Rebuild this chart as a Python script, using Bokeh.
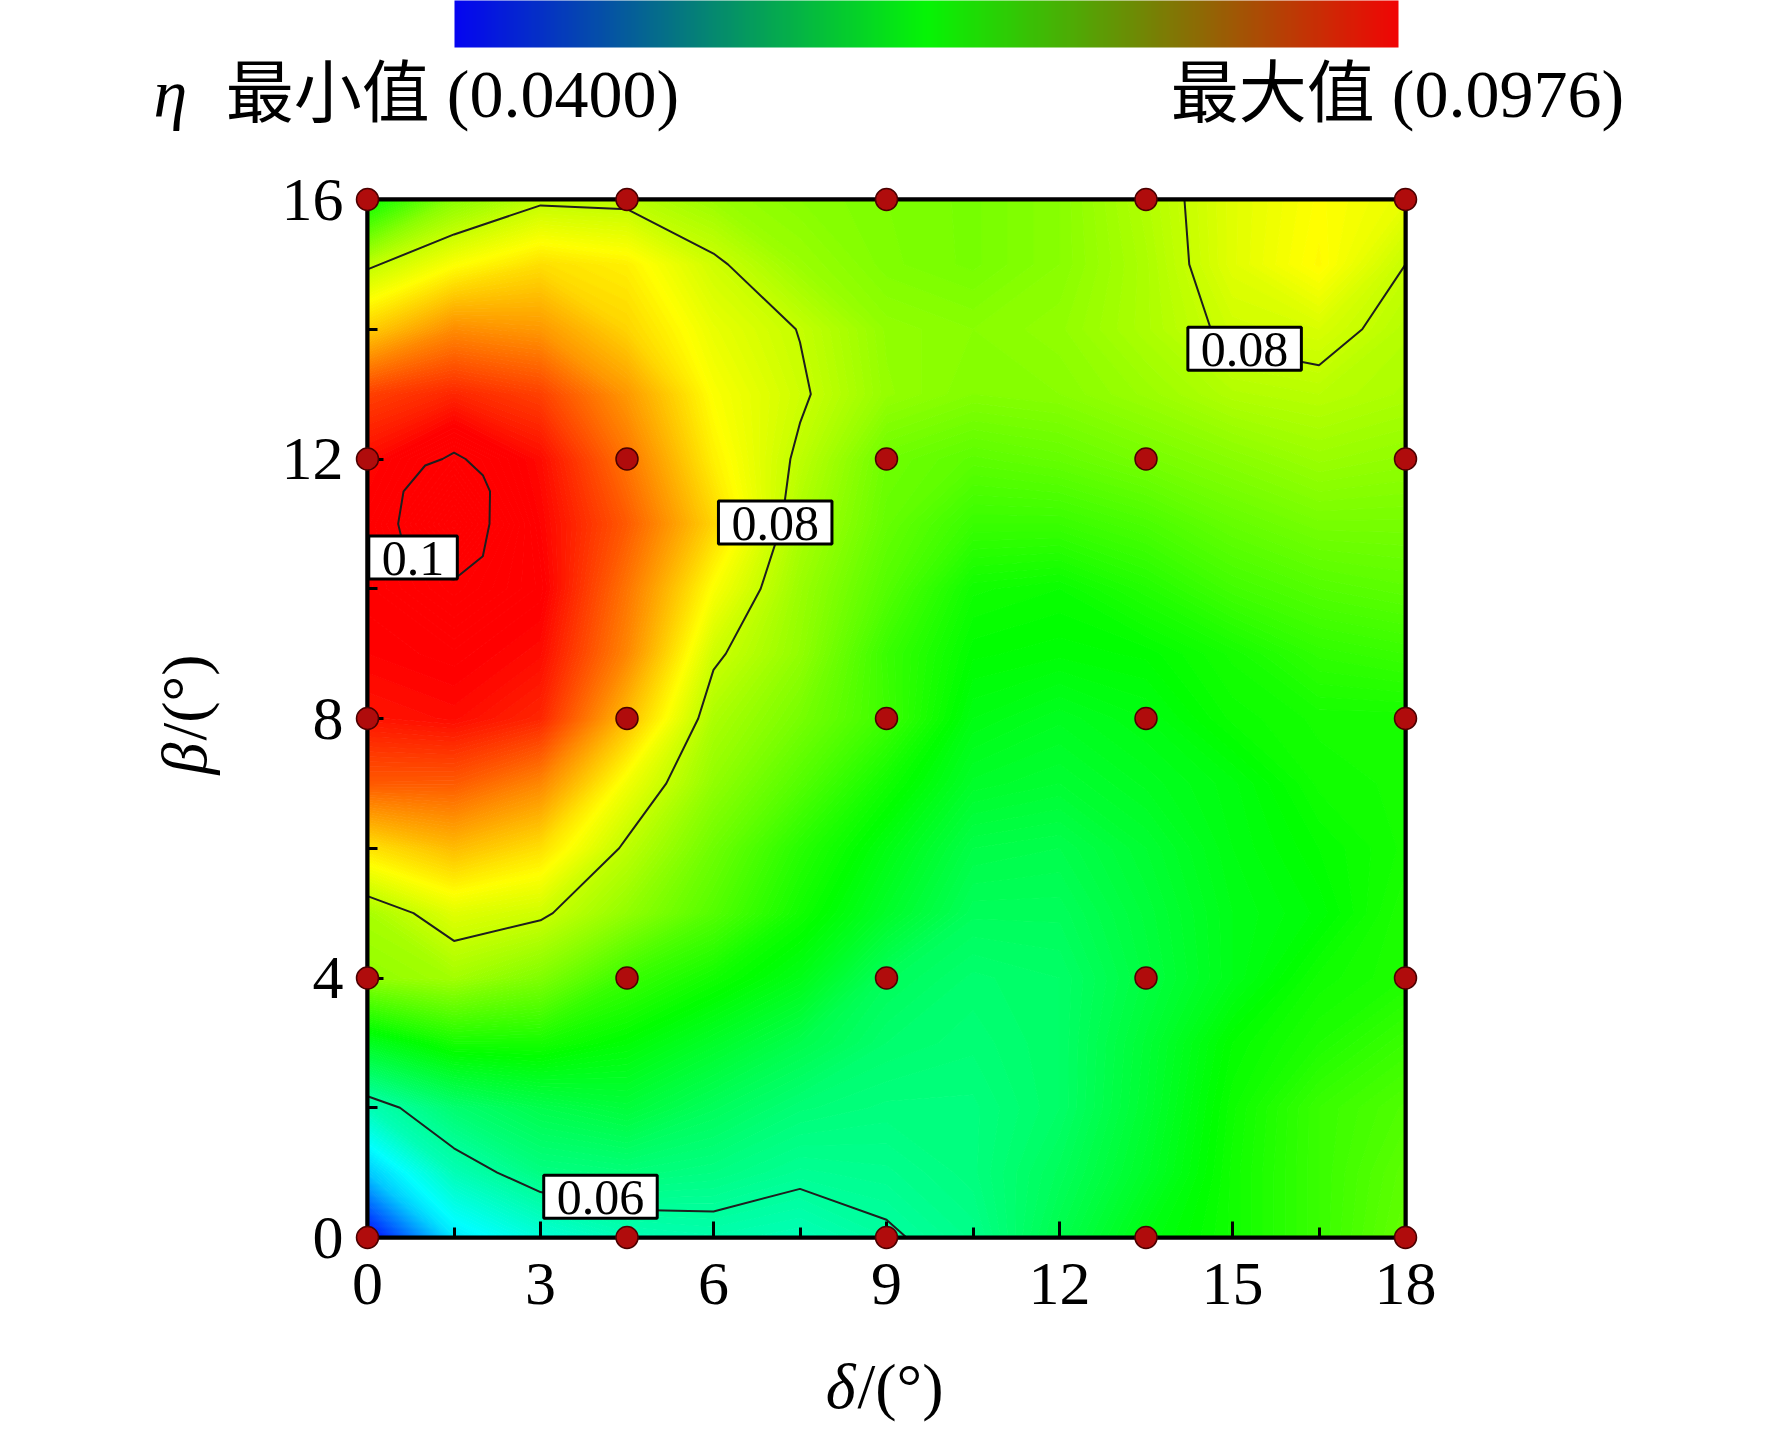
import math
import numpy as np
from bokeh.plotting import figure
from bokeh.models import (Label, ColorBar, LinearColorMapper, SingleIntervalTicker,
                          FixedTicker, Range1d, LinearAxis)
from bokeh.core.properties import value
from bokeh.embed import file_html
from bokeh.resources import INLINE

# ---------------- data ----------------
delta = [0, 1.5, 3, 4.5, 6, 7.5, 9, 10.5, 12, 13.5, 15, 16.5, 18]
beta = [0, 1, 2, 3, 4, 5, 6, 7, 8, 9, 10, 11, 12, 13, 14, 15, 16]

eta_b0 = [0.0400, 0.0530, 0.0565, 0.0585, 0.0590, 0.0585, 0.0597, 0.0610, 0.0645, 0.0678, 0.0697, 0.0720, 0.0744]
eta_b1 = [0.0513, 0.0585, 0.0615, 0.0620, 0.0615, 0.0605, 0.0608, 0.0617, 0.0637, 0.0665, 0.0697, 0.0720, 0.0740]
eta_b2 = [0.0585, 0.0625, 0.0645, 0.0655, 0.0637, 0.0622, 0.0617, 0.0617, 0.0630, 0.0660, 0.0695, 0.0720, 0.0733]
eta_b3 = [0.0670, 0.0700, 0.0700, 0.0685, 0.0665, 0.0645, 0.0627, 0.0622, 0.0630, 0.0658, 0.0690, 0.0705, 0.0720]
eta_b4 = [0.0770, 0.0780, 0.0760, 0.0720, 0.0697, 0.0675, 0.0637, 0.0626, 0.0630, 0.0652, 0.0675, 0.0697, 0.0705]
eta_b5 = [0.0783, 0.0815, 0.0805, 0.0770, 0.0735, 0.0697, 0.0665, 0.0637, 0.0637, 0.0655, 0.0675, 0.0685, 0.0705]
eta_b6 = [0.0848, 0.0870, 0.0850, 0.0795, 0.0750, 0.0710, 0.0678, 0.0648, 0.0645, 0.0660, 0.0678, 0.0690, 0.0700]
eta_b7 = [0.0926, 0.0925, 0.0900, 0.0825, 0.0770, 0.0735, 0.0697, 0.0665, 0.0660, 0.0670, 0.0680, 0.0697, 0.0700]
eta_b8 = [0.0965, 0.0970, 0.0955, 0.0870, 0.0785, 0.0755, 0.0722, 0.0678, 0.0670, 0.0678, 0.0694, 0.0700, 0.0700]
eta_b9 = [0.0975, 0.0980, 0.0970, 0.0900, 0.0805, 0.0770, 0.0720, 0.0688, 0.0685, 0.0688, 0.0700, 0.0715, 0.0720]
eta_b10 = [0.0980, 0.0998, 0.0980, 0.0910, 0.0830, 0.0775, 0.0735, 0.0697, 0.0693, 0.0707, 0.0725, 0.0735, 0.0740]
eta_b11 = [0.0980, 0.1025, 0.0975, 0.0925, 0.0856, 0.0785, 0.0745, 0.0720, 0.0720, 0.0730, 0.0745, 0.0755, 0.0755]
eta_b12 = [0.0970, 0.0999, 0.0970, 0.0910, 0.0840, 0.0795, 0.0750, 0.0740, 0.0745, 0.0755, 0.0765, 0.0775, 0.0770]
eta_b13 = [0.0940, 0.0955, 0.0940, 0.0890, 0.0830, 0.0804, 0.0772, 0.0762, 0.0765, 0.0775, 0.0788, 0.0792, 0.0785]
eta_b14 = [0.0860, 0.0897, 0.0890, 0.0856, 0.0820, 0.0799, 0.0770, 0.0765, 0.0770, 0.0785, 0.0805, 0.0810, 0.0790]
eta_b15 = [0.0795, 0.0830, 0.0850, 0.0840, 0.0805, 0.0775, 0.0760, 0.0755, 0.0765, 0.0785, 0.0815, 0.0835, 0.0800]
eta_b16 = [0.0690, 0.0765, 0.0795, 0.0793, 0.0775, 0.0765, 0.0759, 0.0755, 0.0765, 0.0788, 0.0815, 0.0832, 0.0820]

eta_rows = [eta_b0, eta_b1, eta_b2, eta_b3, eta_b4, eta_b5, eta_b6, eta_b7, eta_b8,
            eta_b9, eta_b10, eta_b11, eta_b12, eta_b13, eta_b14, eta_b15, eta_b16]

# finer reading around the maximum (for the 0.1 contour)
peak_delta = [0, 0.5, 1.0, 1.5, 2.0, 2.5, 3.0]
peak_beta = [9.5, 10.0, 10.5, 11.0, 11.5, 12.0, 12.5]
peak_b95 = [0.0975, 0.0978, 0.0980, 0.0981, 0.0980, 0.0976, 0.0970]
peak_b100 = [0.0980, 0.0988, 0.0995, 0.0996, 0.0992, 0.0985, 0.0978]
peak_b105 = [0.0985, 0.0996, 0.1008, 0.1010, 0.1000, 0.0990, 0.0982]
peak_b110 = [0.0988, 0.0999, 0.1015, 0.1020, 0.1003, 0.0990, 0.0982]
peak_b115 = [0.0986, 0.0996, 0.1012, 0.1018, 0.1003, 0.0991, 0.0982]
peak_b120 = [0.0982, 0.0988, 0.0997, 0.1002, 0.0997, 0.0988, 0.0980]
peak_b125 = [0.0978, 0.0982, 0.0988, 0.0992, 0.0990, 0.0984, 0.0976]
peak_rows = [peak_b95, peak_b100, peak_b105, peak_b110, peak_b115, peak_b120, peak_b125]

# experiment design points
pts_delta = [0, 4.5, 9, 13.5, 18]
pts_beta = [0, 4, 8, 12, 16]

eta_min = 0.0400
eta_max = 0.0976
contour_levels = [0.06, 0.08]
peak_level = [0.1]
clabel_text = ["0.1", "0.08", "0.08", "0.06"]
clabel_delta = [0.79, 7.07, 15.21, 4.04]
clabel_beta = [10.48, 11.02, 13.70, 0.63]

header_min = "最小值 (0.0400)"
header_max = "最大值 (0.0976)"

# ---------------- layout helpers (frame is 1038 x 1038 px) ----------------
FRAME = 1038


def px_dx(px):
    return px * 18.0 / FRAME


def px_dy(px):
    return px * 16.0 / FRAME


# ---------------- colours ----------------
def rainbow(v):
    t = min(max((v - eta_min) / (eta_max - eta_min), 0.0), 1.0)
    if t < 0.25:
        r, g, b = 0.0, 4 * t, 1.0
    elif t < 0.5:
        r, g, b = 0.0, 1.0, 1 - 4 * (t - 0.25)
    elif t < 0.75:
        r, g, b = 4 * (t - 0.5), 1.0, 0.0
    else:
        r, g, b = 1.0, 1 - 4 * (t - 0.75), 0.0
    return "#%02x%02x%02x" % (round(r * 255), round(g * 255), round(b * 255))


def bgr(t):
    if t < 0.5:
        r, g, b = 0.0, 2 * t, 1 - 2 * t
    else:
        r, g, b = 2 * t - 1, 2 - 2 * t, 0.0
    return "#%02x%02x%02x" % (round(r * 235 + 5), round(g * 240 + 5), round(b * 235 + 5))


SERIF = "Liberation Serif"
MIXED = "Liberation Serif, Noto Sans CJK SC"

p = figure(frame_width=FRAME, frame_height=FRAME,
           x_range=Range1d(0, 18), y_range=Range1d(0, 16),
           output_backend="svg", toolbar_location=None,
           min_border_left=367, min_border_top=199,
           min_border_right=350, min_border_bottom=185,
           background_fill_color="white", border_fill_color="white")

X = np.array(delta, dtype=float)
Y = np.array(beta, dtype=float)
Z = np.array(eta_rows, dtype=float)

fill_levels = [round(0.0390 + 0.0003 * i, 6) for i in range(218)]
band_colors = [rainbow((a + b) / 2) for a, b in zip(fill_levels[:-1], fill_levels[1:])]
level_colors = [rainbow(l) for l in fill_levels]
p.contour(X, Y, Z, levels=fill_levels, fill_color=band_colors,
          line_color=level_colors, line_width=1.2)
p.contour(X, Y, Z, levels=contour_levels, line_color="#1e1e1e", line_width=2)
p.contour(np.array(peak_delta, dtype=float), np.array(peak_beta, dtype=float),
          np.array(peak_rows, dtype=float), levels=peak_level,
          line_color="#1e1e1e", line_width=2)

# contour labels
for t, d, b in zip(clabel_text, clabel_delta, clabel_beta):
    p.add_layout(Label(x=d, y=b, text=t, text_align="center", text_baseline="middle",
                       text_font=SERIF, text_font_size="50px", text_color="black",
                       background_fill_color="white", border_line_color="black",
                       border_line_width=3,
                       padding=dict(left=13, right=13, top=6, bottom=4)))

# axes
p.xaxis.ticker = SingleIntervalTicker(interval=3, num_minor_ticks=2)
p.yaxis.ticker = SingleIntervalTicker(interval=4, num_minor_ticks=2)
for ax in (p.xaxis[0], p.yaxis[0]):
    ax.axis_line_width = 4
    ax.axis_line_color = "black"
    ax.major_tick_in = 16
    ax.major_tick_out = 0
    ax.minor_tick_in = 10
    ax.minor_tick_out = 0
    ax.major_tick_line_width = 3
    ax.minor_tick_line_width = 3
    ax.major_tick_line_color = "black"
    ax.minor_tick_line_color = "black"
    ax.major_label_text_font = SERIF
    ax.major_label_text_font_size = "62px"
    ax.major_label_text_color = "black"
p.xaxis.major_label_standoff = 26
p.yaxis.major_label_standoff = 24
p.xgrid.visible = False
p.ygrid.visible = False
p.outline_line_color = "black"
p.outline_line_width = 4

# plain frame lines on top and right
for side in ("above", "right"):
    frame_ax = LinearAxis(ticker=FixedTicker(ticks=[]), axis_line_width=4,
                          axis_line_color="black", major_tick_line_color=None,
                          minor_tick_line_color=None, major_label_text_font_size="0px")
    p.add_layout(frame_ax, side)

# design points (drawn above the frame lines)
pdx = [d for b in pts_beta for d in pts_delta]
pdy = [b for b in pts_beta for d in pts_delta]
p.scatter(pdx, pdy, size=22, fill_color="#b00c0c", line_color="#4a0000",
          line_width=1.5, level="overlay")

BASE_SHIFT = 24  # px correction of the rendered alphabetic baseline


def outside_text(px, py, txt, size, italic=False, align="left", angle=0.0, font=SERIF):
    if angle:
        px = px - BASE_SHIFT
    else:
        py = py + BASE_SHIFT
    p.text(x=[px_dx(px)], y=[px_dy(py)], text=[txt], angle=angle,
           text_font=value(font), text_font_size=value(size),
           text_font_style="italic" if italic else "normal",
           text_align=align, text_baseline="alphabetic", text_color="black",
           level="overlay")


# axis titles (italic symbol + upright unit), below / left of the frame
outside_text(488, -173, "δ", "64px", italic=True, align="right")
outside_text(490, -173, "/(°)", "64px", align="left")
outside_text(-159, 495, "β", "64px", italic=True, align="right", angle=math.pi / 2)
outside_text(-159, 497, "/(°)", "64px", align="left", angle=math.pi / 2)

# header texts
outside_text(-214, 1120, "η", "68px", italic=True, align="left")
outside_text(85, 1120, header_min, "68px", align="center", font=MIXED)
outside_text(1030, 1120, header_max, "68px", align="center", font=MIXED)

# colour bar on top
cb_palette = [bgr(i / 255) for i in range(256)]
mapper = LinearColorMapper(palette=cb_palette, low=eta_min, high=eta_max)
cb = ColorBar(color_mapper=mapper, orientation="horizontal", location=(87, 1190),
              width=944, height=47, padding=0, margin=0,
              ticker=FixedTicker(ticks=[]), major_label_text_font_size="0px",
              major_tick_line_color=None, minor_tick_line_color=None,
              bar_line_color=None, border_line_color=None,
              background_fill_alpha=0, label_standoff=0)
p.add_layout(cb, "center")

open("out.html", "w").write(file_html(p, INLINE))
